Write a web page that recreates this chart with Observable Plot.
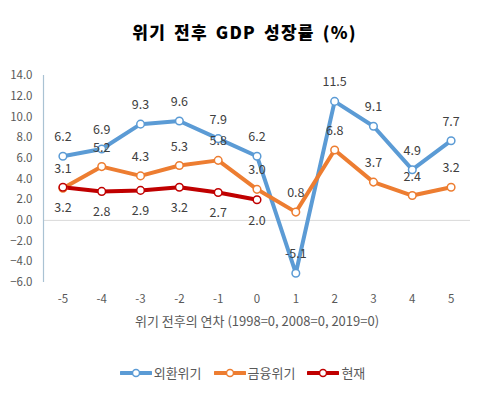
<!DOCTYPE html>
<html>
<head>
<meta charset="utf-8">
<script src="https://cdn.jsdelivr.net/npm/d3@7"></script>
<script src="https://cdn.jsdelivr.net/npm/@observablehq/plot@0.6"></script>
<style>
  html, body { margin: 0; padding: 0; background: #fff; }
  body { width: 485px; height: 396px; overflow: hidden; font-family: "Noto Sans CJK KR", "Noto Sans", sans-serif; }
  #title { height: 55px; line-height: 64px; text-align: center; font-weight: 900; font-size: 17px; color: #000; letter-spacing: 1.2px; word-spacing: 3px; padding-left: 4px; }
  #chart { height: 290px; }
  #legend { display: flex; justify-content: center; align-items: center; gap: 6px; font-size: 13px; color: #595959; margin-top: 18px; padding-left: 6px; }
  .item { display: flex; align-items: center; margin-right: 6px; }
  .item svg { margin-right: 2px; }
</style>
</head>
<body>
<div id="title">위기 전후 GDP 성장률 (%)</div>
<div id="chart"></div>
<div id="legend"></div>
<script>
const years = [-5, -4, -3, -2, -1, 0, 1, 2, 3, 4, 5];
const seriesNames = ["외환위기", "금융위기", "현재"];
const seriesColors = ["#5B9BD5", "#ED7D31", "#C00000"];
const forexCrisis = [6.2, 6.9, 9.3, 9.6, 7.9, 6.2, -5.1, 11.5, 9.1, 4.9, 7.7];
const financialCrisis = [3.1, 5.2, 4.3, 5.3, 5.8, 3.0, 0.8, 6.8, 3.7, 2.4, 3.2];
const current = [3.2, 2.8, 2.9, 3.2, 2.7, 2.0];
const yTicks = [-6, -4, -2, 0, 2, 4, 6, 8, 10, 12, 14];
const xTitle = "위기 전후의 연차 (1998=0, 2008=0, 2019=0)";

const allSeries = [forexCrisis, financialCrisis, current];
const data = [];
allSeries.forEach((vals, si) => {
  vals.forEach((v, i) => data.push({ x: years[i], y: v, s: seriesNames[si] }));
});
const above = data.filter(d => d.s !== "현재");
const below = data.filter(d => d.s === "현재");

const font = "'Noto Sans CJK KR', 'Noto Sans', sans-serif";
const plot = Plot.plot({
  width: 485,
  height: 290,
  marginTop: 20,
  marginBottom: 63,
  marginLeft: 43,
  marginRight: 15,
  style: { fontFamily: font, fontSize: "11.5px", color: "#595959", background: "#fff" },
  x: { domain: [-5.5, 5.5], ticks: years, tickFormat: d => String(d), tickSize: 0, tickPadding: 12, label: null },
  y: { domain: [-6, 14], ticks: yTicks, tickFormat: d3.format(".1f"), tickSize: 0, tickPadding: 11, label: null },
  color: { domain: seriesNames, range: seriesColors },
  marks: [
    Plot.ruleY([0], { stroke: "#d9d9d9", strokeWidth: 1 }),
    Plot.ruleX([-5.5], { y1: -6, y2: 14, stroke: "#a9c2d3", strokeWidth: 1.2 }),
    Plot.line(data, { x: "x", y: "y", z: "s", stroke: "s", strokeWidth: 4, strokeLinejoin: "round", strokeLinecap: "round" }),
    Plot.dot(data, { x: "x", y: "y", stroke: "s", fill: "white", r: 3.8, strokeWidth: 1.5 }),
    Plot.text(above, { x: "x", y: "y", text: d => d.y.toFixed(1), dy: -19, fill: "#404040", fontSize: 12.5 }),
    Plot.text(below, { x: "x", y: "y", text: d => d.y.toFixed(1), dy: 21, fill: "#404040", fontSize: 12.5 }),
    Plot.text([xTitle], { frameAnchor: "bottom", dy: 43, fill: "#595959", fontSize: 13 })
  ]
});
document.getElementById("chart").appendChild(plot);

const legend = document.getElementById("legend");
seriesNames.forEach((name, i) => {
  const item = document.createElement("div");
  item.className = "item";
  item.innerHTML = `<svg width="32" height="12"><line x1="1" y1="6" x2="31" y2="6" stroke="${seriesColors[i]}" stroke-width="4" stroke-linecap="round"/><circle cx="16" cy="6" r="3.5" fill="white" stroke="${seriesColors[i]}" stroke-width="1.5"/></svg><span>${name}</span>`;
  legend.appendChild(item);
});
</script>
</body>
</html>
